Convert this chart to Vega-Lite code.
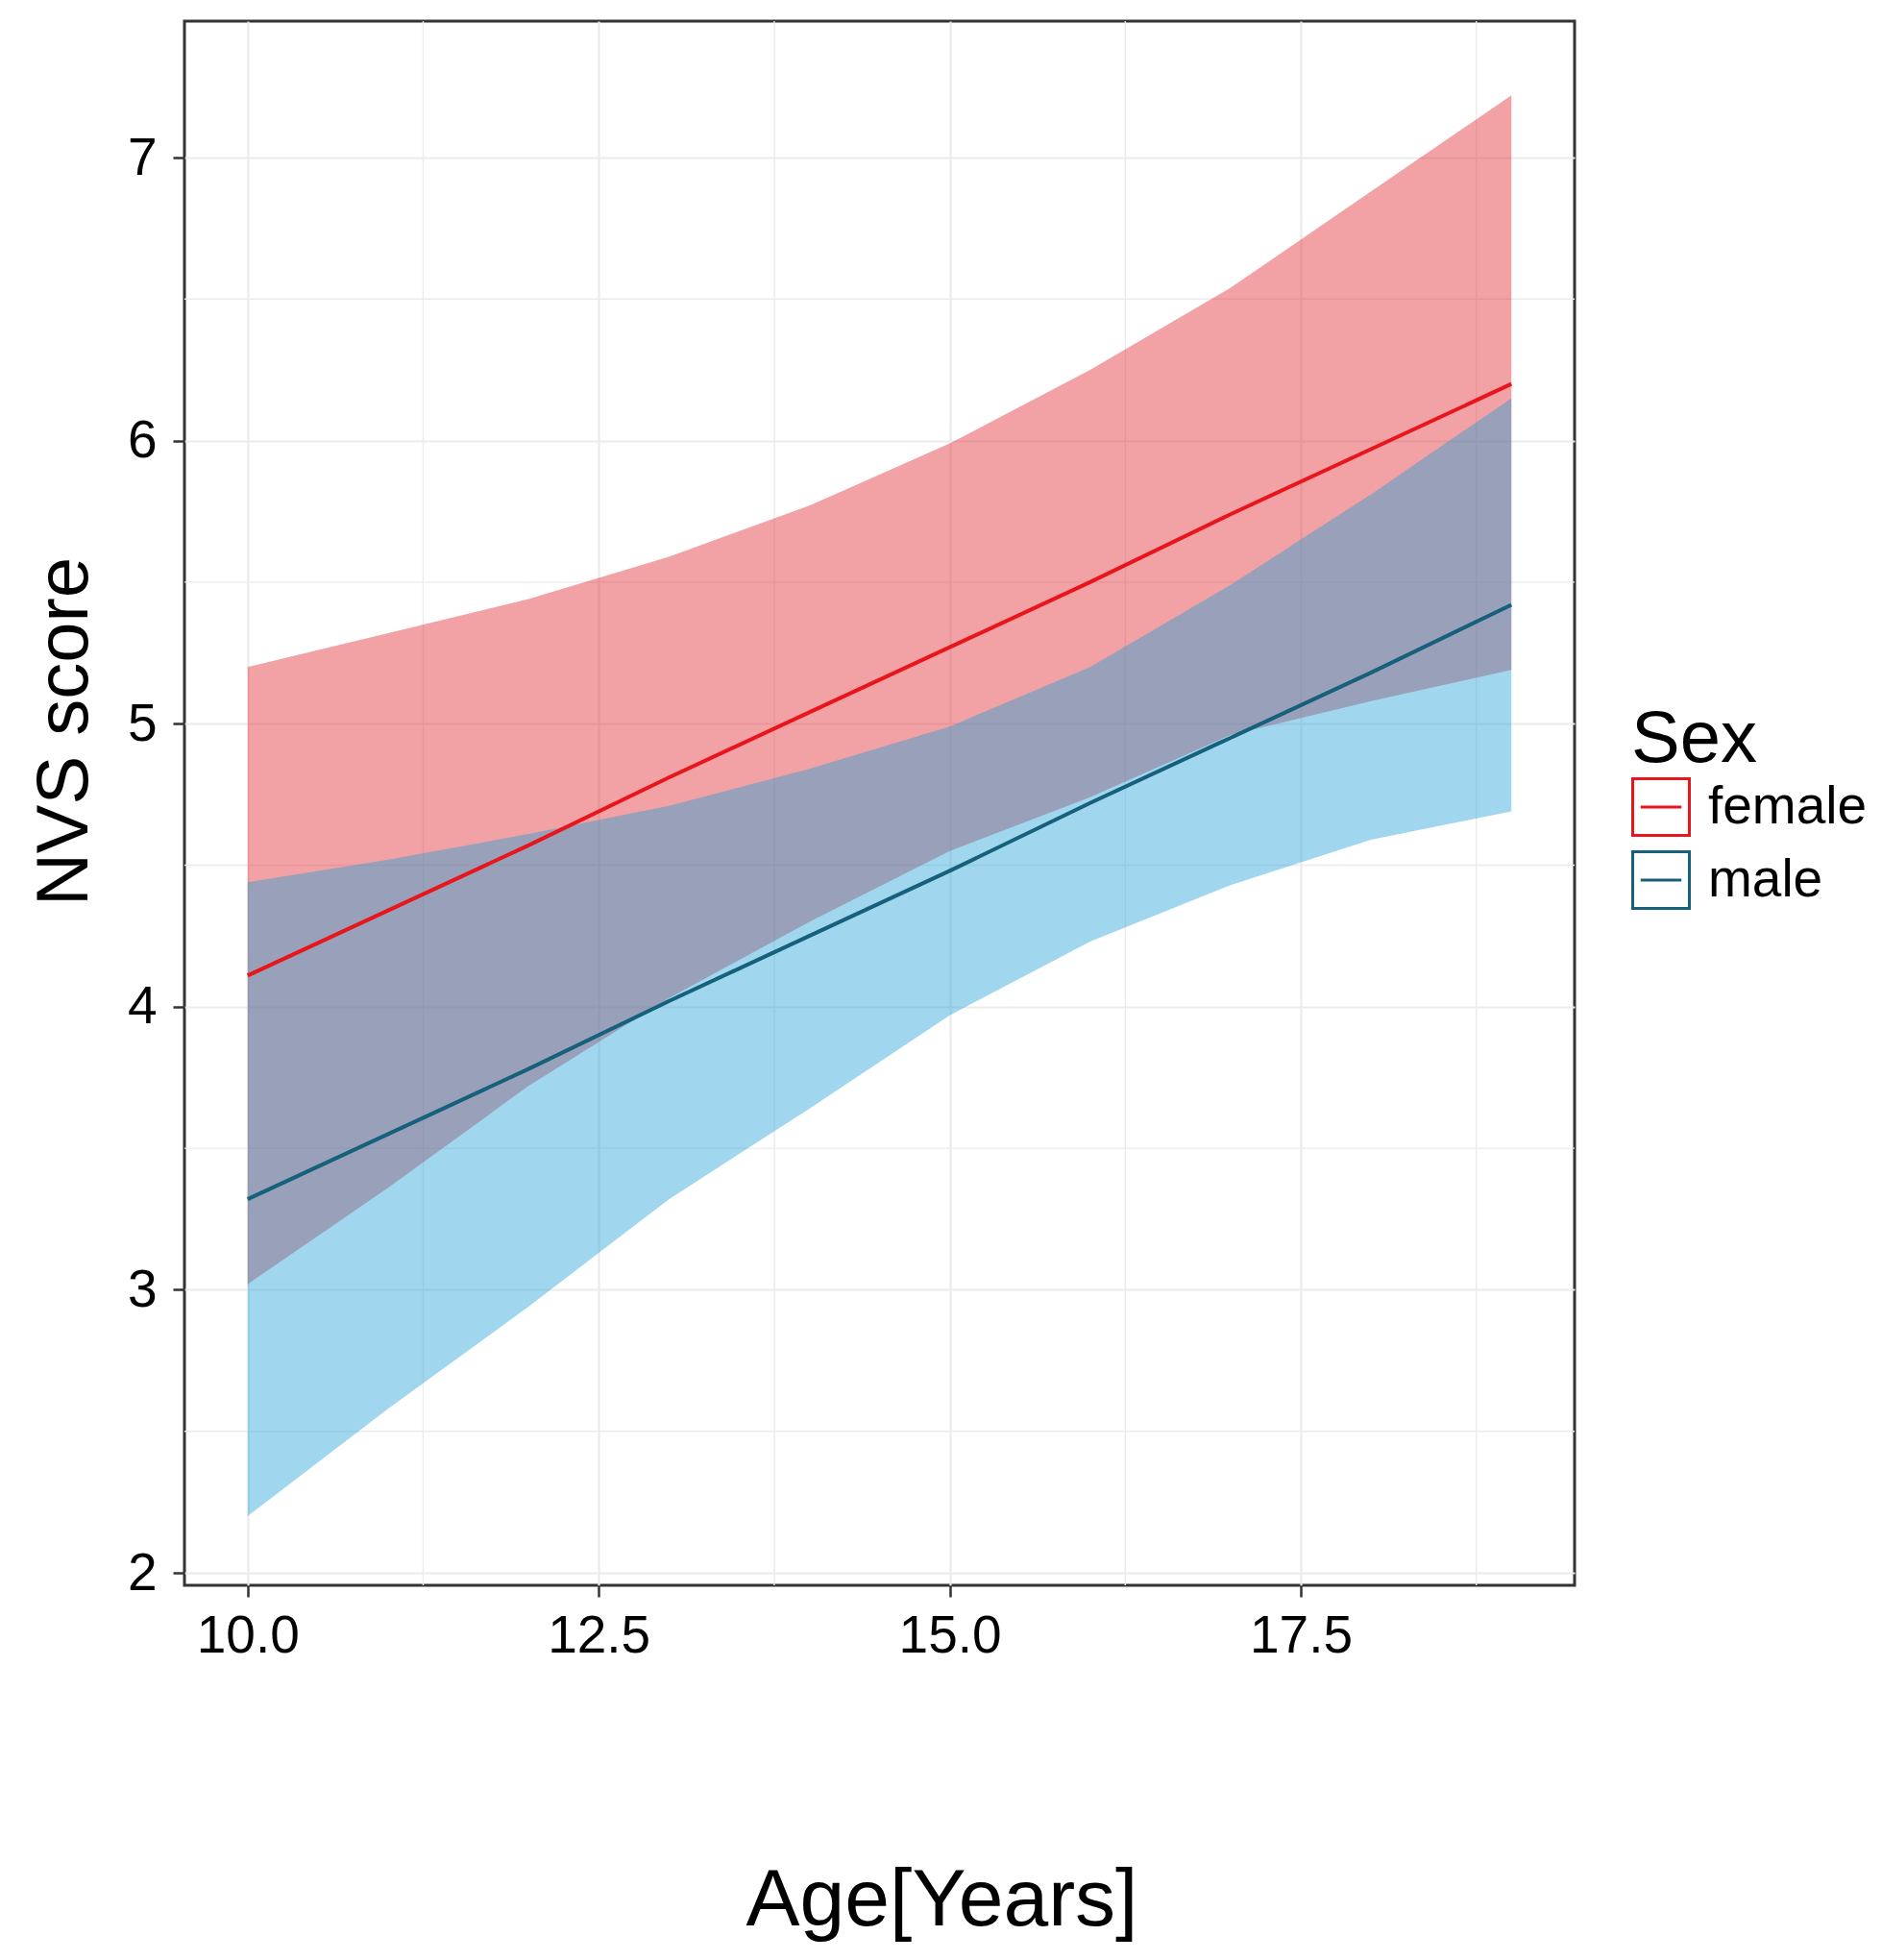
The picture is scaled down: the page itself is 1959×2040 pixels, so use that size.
{
  "$schema": "https://vega.github.io/schema/vega-lite/v6.json",
  "width": 1447,
  "height": 1628,
  "autosize": {"type": "none"},
  "padding": {"left": 192, "top": 22, "right": 320, "bottom": 390},
  "background": "white",
  "config": {
    "font": "Liberation Sans",
    "view": {"stroke": "#333333", "strokeWidth": 3},
    "axis": {
      "domain": false,
      "labelColor": "black",
      "titleColor": "black",
      "titleFontWeight": "normal",
      "tickColor": "#333333",
      "tickWidth": 2.5,
      "tickSize": 12,
      "gridColor": "#ebebeb",
      "gridWidth": 2.2,
      "labelFontSize": 55
    },
    "axisX": {
      "titleFontSize": 84,
      "titleX": 788,
      "titleY": 353,
      "titleAlign": "center",
      "titleBaseline": "alphabetic",
      "labelPadding": 14
    },
    "axisY": {
      "titleFontSize": 76,
      "titleAngle": 270,
      "titleX": -102,
      "titleY": 739,
      "titleAlign": "center",
      "titleBaseline": "alphabetic",
      "labelPadding": 17
    }
  },
  "datasets": {
    "fits": [
      {"age": 10, "sex": "female", "fit": 4.11, "lower": 3.02, "upper": 5.20},
      {"age": 11, "sex": "female", "fit": 4.34, "lower": 3.36, "upper": 5.32},
      {"age": 12, "sex": "female", "fit": 4.57, "lower": 3.72, "upper": 5.44},
      {"age": 13, "sex": "female", "fit": 4.81, "lower": 4.03, "upper": 5.59},
      {"age": 14, "sex": "female", "fit": 5.04, "lower": 4.30, "upper": 5.77},
      {"age": 15, "sex": "female", "fit": 5.27, "lower": 4.55, "upper": 5.99},
      {"age": 16, "sex": "female", "fit": 5.50, "lower": 4.74, "upper": 6.25},
      {"age": 17, "sex": "female", "fit": 5.74, "lower": 4.96, "upper": 6.54},
      {"age": 18, "sex": "female", "fit": 5.97, "lower": 5.08, "upper": 6.88},
      {"age": 19, "sex": "female", "fit": 6.20, "lower": 5.19, "upper": 7.22},
      {"age": 10, "sex": "male", "fit": 3.32, "lower": 2.20, "upper": 4.44},
      {"age": 11, "sex": "male", "fit": 3.55, "lower": 2.58, "upper": 4.52},
      {"age": 12, "sex": "male", "fit": 3.78, "lower": 2.94, "upper": 4.61},
      {"age": 13, "sex": "male", "fit": 4.02, "lower": 3.32, "upper": 4.71},
      {"age": 14, "sex": "male", "fit": 4.25, "lower": 3.64, "upper": 4.84},
      {"age": 15, "sex": "male", "fit": 4.48, "lower": 3.97, "upper": 4.99},
      {"age": 16, "sex": "male", "fit": 4.72, "lower": 4.23, "upper": 5.20},
      {"age": 17, "sex": "male", "fit": 4.95, "lower": 4.43, "upper": 5.49},
      {"age": 18, "sex": "male", "fit": 5.18, "lower": 4.59, "upper": 5.81},
      {"age": 19, "sex": "male", "fit": 5.42, "lower": 4.69, "upper": 6.15}
    ],
    "xminor": [{"v": 11.25}, {"v": 13.75}, {"v": 16.25}, {"v": 18.75}],
    "yminor": [{"v": 2.5}, {"v": 3.5}, {"v": 4.5}, {"v": 5.5}, {"v": 6.5}]
  },
  "layer": [
    {
      "data": {"name": "xminor"},
      "mark": {"type": "rule", "color": "#ebebeb", "strokeWidth": 1.4},
      "encoding": {
        "x": {
          "field": "v",
          "type": "quantitative",
          "title": "Age[Years]",
          "scale": {"domain": [9.55, 19.45], "nice": false, "zero": false},
          "axis": {"values": [10, 12.5, 15, 17.5], "format": ".1f"}
        }
      }
    },
    {
      "data": {"name": "yminor"},
      "mark": {"type": "rule", "color": "#ebebeb", "strokeWidth": 1.4},
      "encoding": {
        "y": {
          "field": "v",
          "type": "quantitative",
          "title": "NVS score",
          "scale": {"domain": [1.956, 7.482], "nice": false, "zero": false},
          "axis": {"values": [2, 3, 4, 5, 6, 7], "format": "d"}
        }
      }
    },
    {
      "data": {"name": "fits"},
      "transform": [{"filter": "datum.sex === 'female'"}],
      "mark": {"type": "area", "opacity": 0.43},
      "encoding": {
        "x": {
          "field": "age",
          "type": "quantitative",
          "title": "Age[Years]",
          "scale": {"domain": [9.55, 19.45], "nice": false, "zero": false},
          "axis": {"values": [10, 12.5, 15, 17.5], "format": ".1f"}
        },
        "y": {
          "field": "lower",
          "type": "quantitative",
          "title": "NVS score",
          "scale": {"domain": [1.956, 7.482], "nice": false, "zero": false},
          "axis": {"values": [2, 3, 4, 5, 6, 7], "format": "d"}
        },
        "y2": {"field": "upper"},
        "fill": {
          "field": "sex",
          "type": "nominal",
          "scale": {"range": ["#e1272b", "#22a0d7"]},
          "legend": null
        }
      }
    },
    {
      "data": {"name": "fits"},
      "transform": [{"filter": "datum.sex === 'male'"}],
      "mark": {"type": "area", "opacity": 0.43},
      "encoding": {
        "x": {
          "field": "age",
          "type": "quantitative",
          "title": "Age[Years]",
          "scale": {"domain": [9.55, 19.45], "nice": false, "zero": false},
          "axis": {"values": [10, 12.5, 15, 17.5], "format": ".1f"}
        },
        "y": {
          "field": "lower",
          "type": "quantitative",
          "title": "NVS score",
          "scale": {"domain": [1.956, 7.482], "nice": false, "zero": false},
          "axis": {"values": [2, 3, 4, 5, 6, 7], "format": "d"}
        },
        "y2": {"field": "upper"},
        "fill": {"field": "sex", "type": "nominal", "legend": null}
      }
    },
    {
      "data": {"name": "fits"},
      "mark": {"type": "line", "strokeWidth": 4},
      "encoding": {
        "x": {
          "field": "age",
          "type": "quantitative",
          "title": "Age[Years]",
          "scale": {"domain": [9.55, 19.45], "nice": false, "zero": false},
          "axis": {"values": [10, 12.5, 15, 17.5], "format": ".1f"}
        },
        "y": {
          "field": "fit",
          "type": "quantitative",
          "title": "NVS score",
          "scale": {"domain": [1.956, 7.482], "nice": false, "zero": false},
          "axis": {"values": [2, 3, 4, 5, 6, 7], "format": "d"}
        },
        "stroke": {
          "field": "sex",
          "type": "nominal",
          "scale": {"domain": ["female", "male"], "range": ["#e8161c", "#16607c"]},
          "legend": {
            "title": "Sex",
            "orient": "none",
            "legendX": 1506,
            "legendY": 711,
            "titleFontSize": 76,
            "titleFontWeight": "normal",
            "titleColor": "black",
            "titlePadding": 0,
            "labelFontSize": 55,
            "labelColor": "black",
            "labelOffset": 18,
            "labelLimit": 400,
            "symbolSize": 3481,
            "symbolType": "M-1,-1H1V1H-1Z M-0.72,0H0.72",
            "symbolStrokeWidth": 3,
            "symbolFillColor": "white",
            "rowPadding": 4
          }
        }
      }
    }
  ]
}
